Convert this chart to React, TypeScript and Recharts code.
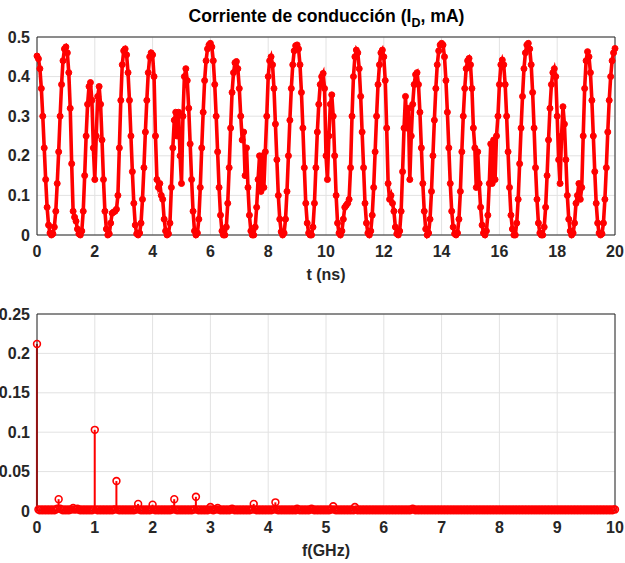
import React from 'react';
import {
  LineChart,
  Line,
  XAxis,
  YAxis,
  CartesianGrid,
  ReferenceLine,
  ComposedChart,
  Bar,
} from 'recharts';

// ---- Top plot: conduction current I_D (mA) vs time (ns), sampled every 0.05 ns ----
const TIME_STEP_NS = 0.05;
const currentValues: number[] = [
  // 0 - 1 ns
  0.452, 0.445, 0.42, 0.37, 0.30, 0.22, 0.14, 0.07, 0.025, 0.005,
  0.0, 0.003, 0.02, 0.06, 0.13, 0.21, 0.30, 0.38, 0.44, 0.47,
  // 1 - 2
  0.475, 0.46, 0.41, 0.32, 0.18, 0.06, 0.045, 0.035, 0.015, 0.003,
  0.0, 0.01, 0.06, 0.15, 0.25, 0.33, 0.375, 0.385, 0.34, 0.22,
  // 2 - 3
  0.14, 0.25, 0.35, 0.375, 0.33, 0.24, 0.14, 0.06, 0.015, 0.0,
  0.003, 0.03, 0.055, 0.058, 0.06, 0.065, 0.10, 0.22, 0.34, 0.43,
  // 3 - 4
  0.465, 0.47, 0.455, 0.41, 0.34, 0.25, 0.16, 0.08, 0.025, 0.003,
  0.0, 0.005, 0.03, 0.09, 0.17, 0.26, 0.34, 0.41, 0.45, 0.46,
  // 4 - 5
  0.455, 0.40, 0.25, 0.14, 0.12, 0.13, 0.10, 0.09, 0.04, 0.01,
  0.0, 0.003, 0.03, 0.12, 0.22, 0.29, 0.31, 0.25, 0.31, 0.20,
  // 5 - 6
  0.13, 0.30, 0.40, 0.42, 0.39, 0.32, 0.23, 0.14, 0.06, 0.01,
  0.0, 0.005, 0.04, 0.12, 0.22, 0.31, 0.39, 0.44, 0.47, 0.48,
  // 6 - 7
  0.484, 0.475, 0.44, 0.38, 0.30, 0.21, 0.12, 0.05, 0.01, 0.0,
  0.0, 0.02, 0.08, 0.17, 0.27, 0.36, 0.41, 0.435, 0.438, 0.42,
  // 7 - 8
  0.37, 0.30, 0.24, 0.26, 0.15, 0.22, 0.12, 0.05, 0.01, 0.0,
  0.0, 0.02, 0.07, 0.14, 0.20, 0.11, 0.20, 0.12, 0.21, 0.30,
  // 8 - 9
  0.40, 0.44, 0.45, 0.43, 0.37, 0.28, 0.19, 0.10, 0.04, 0.008,
  0.0, 0.005, 0.04, 0.11, 0.20, 0.29, 0.37, 0.43, 0.465, 0.478,
  // 9 - 10
  0.48, 0.47, 0.43, 0.36, 0.27, 0.17, 0.08, 0.03, 0.005, 0.0,
  0.0, 0.02, 0.08, 0.17, 0.26, 0.33, 0.38, 0.40, 0.408, 0.37,
  // 10 - 11
  0.20, 0.14, 0.25, 0.33, 0.354, 0.30, 0.20, 0.10, 0.03, 0.005,
  0.0, 0.01, 0.04, 0.07, 0.075, 0.08, 0.09, 0.17, 0.30, 0.40,
  // 11 - 12
  0.45, 0.467, 0.46, 0.42, 0.35, 0.26, 0.17, 0.08, 0.03, 0.005,
  0.0, 0.01, 0.05, 0.12, 0.21, 0.30, 0.38, 0.43, 0.46, 0.467,
  // 12 - 13
  0.45, 0.39, 0.27, 0.13, 0.09, 0.10, 0.08, 0.06, 0.02, 0.003,
  0.0, 0.01, 0.06, 0.16, 0.27, 0.35, 0.27, 0.32, 0.14, 0.25,
  // 13 - 14
  0.33, 0.38, 0.405, 0.41, 0.38, 0.31, 0.22, 0.13, 0.06, 0.015,
  0.0, 0.005, 0.04, 0.11, 0.20, 0.29, 0.37, 0.43, 0.465, 0.48,
  // 14 - 15
  0.484, 0.48, 0.45, 0.39, 0.31, 0.22, 0.13, 0.06, 0.02, 0.003,
  0.0, 0.005, 0.04, 0.11, 0.21, 0.30, 0.37, 0.42, 0.44, 0.446,
  // 15 - 16
  0.43, 0.37, 0.27, 0.22, 0.12, 0.21, 0.13, 0.07, 0.025, 0.005,
  0.0, 0.01, 0.05, 0.13, 0.23, 0.13, 0.24, 0.14, 0.25, 0.30,
  // 16 - 17
  0.38, 0.43, 0.442, 0.43, 0.38, 0.30, 0.21, 0.12, 0.05, 0.015,
  0.0, 0.0, 0.03, 0.09, 0.18, 0.27, 0.35, 0.42, 0.46, 0.48,
  // 17 - 18
  0.484, 0.47, 0.43, 0.36, 0.27, 0.17, 0.09, 0.03, 0.005, 0.0,
  0.0, 0.02, 0.07, 0.15, 0.24, 0.32, 0.38, 0.41, 0.42, 0.40,
  // 18 - 19
  0.30, 0.19, 0.13, 0.25, 0.324, 0.28, 0.19, 0.10, 0.04, 0.01,
  0.0, 0.005, 0.03, 0.08, 0.10, 0.13, 0.09, 0.12, 0.25, 0.37,
  // 19 - 20
  0.44, 0.463, 0.45, 0.41, 0.34, 0.25, 0.16, 0.08, 0.03, 0.005,
  0.0, 0.003, 0.03, 0.09, 0.17, 0.26, 0.34, 0.40, 0.44, 0.46,
  // 20 ns
  0.471,
];
const timeTicks = [0, 2, 4, 6, 8, 10, 12, 14, 16, 18, 20];
const currentTicks = [0, 0.1, 0.2, 0.3, 0.4, 0.5];

// ---- Bottom plot: spectrum magnitude vs frequency (GHz), bins of 0.025 GHz ----
const FREQ_STEP_GHZ = 0.025;
const spectrumValues: number[] = [
  // 0.0 - 0.5 GHz
  0.212, 0.002, 0.001, 0.002, 0.001, 0.002, 0.001, 0.002, 0.001, 0.002,
  0.001, 0.002, 0.001, 0.002, 0.003, 0.015, 0.003, 0.002, 0.001, 0.002,
  // 0.5 - 1.0
  0.001, 0.002, 0.001, 0.002, 0.002, 0.004, 0.002, 0.002, 0.003, 0.002,
  0.001, 0.002, 0.001, 0.002, 0.001, 0.002, 0.001, 0.002, 0.001, 0.002,
  // 1.0 - 1.5
  0.103, 0.002, 0.001, 0.002, 0.001, 0.002, 0.001, 0.002, 0.001, 0.002,
  0.001, 0.002, 0.001, 0.002, 0.002, 0.038, 0.002, 0.001, 0.002, 0.001,
  // 1.5 - 2.0
  0.002, 0.001, 0.002, 0.001, 0.002, 0.001, 0.002, 0.001, 0.002, 0.002,
  0.009, 0.002, 0.001, 0.002, 0.001, 0.002, 0.001, 0.002, 0.001, 0.002,
  // 2.0 - 2.5
  0.008, 0.002, 0.001, 0.002, 0.001, 0.002, 0.001, 0.002, 0.001, 0.002,
  0.001, 0.002, 0.001, 0.002, 0.002, 0.015, 0.002, 0.001, 0.002, 0.001,
  // 2.5 - 3.0
  0.002, 0.001, 0.002, 0.001, 0.002, 0.001, 0.002, 0.001, 0.002, 0.002,
  0.018, 0.002, 0.001, 0.002, 0.001, 0.002, 0.001, 0.002, 0.001, 0.002,
  // 3.0 - 3.5
  0.005, 0.002, 0.001, 0.002, 0.002, 0.004, 0.002, 0.001, 0.002, 0.001,
  0.002, 0.001, 0.002, 0.001, 0.002, 0.003, 0.002, 0.001, 0.002, 0.001,
  // 3.5 - 4.0
  0.002, 0.001, 0.002, 0.001, 0.002, 0.001, 0.002, 0.001, 0.002, 0.002,
  0.009, 0.002, 0.001, 0.002, 0.001, 0.002, 0.001, 0.002, 0.001, 0.002,
  // 4.0 - 4.5
  0.001, 0.002, 0.001, 0.002, 0.002, 0.011, 0.002, 0.001, 0.002, 0.001,
  0.002, 0.001, 0.002, 0.001, 0.002, 0.001, 0.002, 0.001, 0.002, 0.001,
  // 4.5 - 5.0
  0.003, 0.002, 0.001, 0.002, 0.001, 0.002, 0.001, 0.002, 0.001, 0.002,
  0.003, 0.002, 0.001, 0.002, 0.001, 0.002, 0.001, 0.002, 0.001, 0.002,
  // 5.0 - 5.5
  0.001, 0.002, 0.001, 0.002, 0.002, 0.006, 0.002, 0.001, 0.002, 0.001,
  0.002, 0.001, 0.002, 0.001, 0.002, 0.001, 0.002, 0.001, 0.002, 0.001,
  // 5.5 - 6.0
  0.005, 0.002, 0.001, 0.002, 0.001, 0.002, 0.001, 0.002, 0.001, 0.002,
  0.001, 0.002, 0.001, 0.002, 0.001, 0.002, 0.001, 0.002, 0.001, 0.002,
  // 6.0 - 6.5
  0.001, 0.002, 0.001, 0.002, 0.001, 0.002, 0.001, 0.002, 0.001, 0.002,
  0.001, 0.002, 0.001, 0.002, 0.001, 0.002, 0.001, 0.002, 0.001, 0.002,
  // 6.5 - 7.0
  0.003, 0.002, 0.001, 0.002, 0.001, 0.002, 0.001, 0.002, 0.001, 0.002,
  0.001, 0.002, 0.001, 0.002, 0.001, 0.002, 0.001, 0.002, 0.001, 0.002,
  // 7.0 - 7.5
  0.001, 0.002, 0.001, 0.002, 0.001, 0.002, 0.001, 0.002, 0.001, 0.002,
  0.001, 0.002, 0.001, 0.002, 0.001, 0.002, 0.001, 0.002, 0.001, 0.002,
  // 7.5 - 8.0
  0.001, 0.002, 0.001, 0.002, 0.001, 0.002, 0.001, 0.002, 0.001, 0.002,
  0.001, 0.002, 0.001, 0.002, 0.001, 0.002, 0.001, 0.002, 0.001, 0.002,
  // 8.0 - 8.5
  0.001, 0.002, 0.001, 0.002, 0.001, 0.002, 0.001, 0.002, 0.001, 0.002,
  0.001, 0.002, 0.001, 0.002, 0.001, 0.002, 0.001, 0.002, 0.001, 0.002,
  // 8.5 - 9.0
  0.001, 0.002, 0.001, 0.002, 0.001, 0.002, 0.001, 0.002, 0.001, 0.002,
  0.001, 0.002, 0.001, 0.002, 0.001, 0.002, 0.001, 0.002, 0.001, 0.002,
  // 9.0 - 9.5
  0.001, 0.002, 0.001, 0.002, 0.001, 0.002, 0.001, 0.002, 0.001, 0.002,
  0.001, 0.002, 0.001, 0.002, 0.001, 0.002, 0.001, 0.002, 0.001, 0.002,
  // 9.5 - 10.0
  0.001, 0.002, 0.001, 0.002, 0.001, 0.002, 0.001, 0.002, 0.001, 0.002,
  0.001, 0.002, 0.001, 0.002, 0.001, 0.002, 0.001, 0.002, 0.001, 0.002,
  // 10 GHz
  0.002,
];
const freqTicks = [0, 1, 2, 3, 4, 5, 6, 7, 8, 9, 10];
const spectrumTicks = [0, 0.05, 0.1, 0.15, 0.2, 0.25];

const currentData = currentValues.map((v, i) => ({
  t: Math.round(i * TIME_STEP_NS * 1000) / 1000,
  v,
}));
const spectrumData = spectrumValues.map((a, k) => ({
  f: Math.round(k * FREQ_STEP_GHZ * 10000) / 10000,
  a,
}));

const RED = '#ff0000';
const AXIS = '#262626';
const GRID = '#e2e2e2';
const FONT = '"Liberation Sans", Arial, Helvetica, sans-serif';
const tickStyle = { fill: AXIS, fontSize: 16, fontWeight: 700, fontFamily: FONT };
const labelStyle = { fill: AXIS, fontSize: 16, fontWeight: 700, fontFamily: FONT };

// Stem drawn as a thin rect centred on the bar slot given by the library.
const Stem = (props: any) => {
  const { x, y, width, height } = props;
  if (x == null || y == null || !height) return <g />;
  const cx = x + width / 2;
  return <rect x={cx - 1} y={y} width={2} height={height} fill={RED} />;
};

export default function App() {
  return (
    <div
      style={{
        position: 'absolute',
        left: 0,
        top: 0,
        width: 625,
        height: 563,
        background: '#ffffff',
        fontFamily: FONT,
      }}
    >
      <svg
        width={625}
        height={34}
        style={{ position: 'absolute', left: 0, top: 0 }}
      >
        <text
          x={326.5}
          y={22}
          textAnchor="middle"
          fill="#000000"
          fontFamily={FONT}
          fontWeight={700}
          fontSize={17.6}
        >
          Corriente de conducción (I
          <tspan dy={5} fontSize={12.5}>D</tspan>
          <tspan dy={-5}>, mA)</tspan>
        </text>
      </svg>

      <div style={{ position: 'absolute', left: 0, top: 0 }}>
        <LineChart
          width={625}
          height={290}
          data={currentData}
          margin={{ top: 37, right: 10, left: 0, bottom: 0 }}
        >
          <CartesianGrid stroke={GRID} strokeWidth={1} />
          <XAxis
            type="number"
            dataKey="t"
            domain={[0, 20]}
            ticks={timeTicks}
            height={55}
            tickLine={false}
            tickMargin={5}
            axisLine={{ stroke: AXIS, strokeWidth: 1 }}
            tick={tickStyle}
            label={{
              value: 't (ns)',
              position: 'insideBottom',
              offset: 10,
              style: labelStyle,
            }}
          />
          <YAxis
            type="number"
            domain={[0, 0.5]}
            ticks={currentTicks}
            width={37}
            tickLine={false}
            tickMargin={1}
            axisLine={{ stroke: AXIS, strokeWidth: 1 }}
            tick={tickStyle}
          />
          <ReferenceLine y={0.5} stroke={AXIS} strokeWidth={1} />
          <ReferenceLine x={20} stroke={AXIS} strokeWidth={1} />
          <Line
            type="linear"
            dataKey="v"
            stroke={RED}
            strokeWidth={3.6}
            dot={{ r: 3, fill: RED, stroke: RED, strokeWidth: 1 }}
            isAnimationActive={false}
          />
        </LineChart>
      </div>

      <div style={{ position: 'absolute', left: 0, top: 280 }}>
        <ComposedChart
          width={625}
          height={283}
          data={spectrumData}
          margin={{ top: 34, right: 10, left: 0, bottom: 0 }}
        >
          <CartesianGrid stroke={GRID} strokeWidth={1} />
          <XAxis
            type="number"
            dataKey="f"
            domain={[0, 10]}
            ticks={freqTicks}
            height={52}
            tickLine={false}
            tickMargin={5}
            axisLine={{ stroke: AXIS, strokeWidth: 1 }}
            tick={tickStyle}
            label={{
              value: 'f(GHz)',
              position: 'insideBottom',
              offset: 7,
              style: labelStyle,
            }}
          />
          <YAxis
            type="number"
            domain={[0, 0.25]}
            ticks={spectrumTicks}
            width={37}
            tickLine={false}
            tickMargin={1}
            axisLine={{ stroke: AXIS, strokeWidth: 1 }}
            tick={tickStyle}
          />
          <ReferenceLine y={0.25} stroke={AXIS} strokeWidth={1} />
          <ReferenceLine x={10} stroke={AXIS} strokeWidth={1} />
          <Bar
            dataKey="a"
            fill={RED}
            barSize={2}
            shape={Stem}
            isAnimationActive={false}
          />
          <Line
            type="linear"
            dataKey="a"
            stroke="none"
            dot={{ r: 3.4, fill: 'none', stroke: RED, strokeWidth: 1.6 }}
            isAnimationActive={false}
          />
        </ComposedChart>
      </div>
    </div>
  );
}
